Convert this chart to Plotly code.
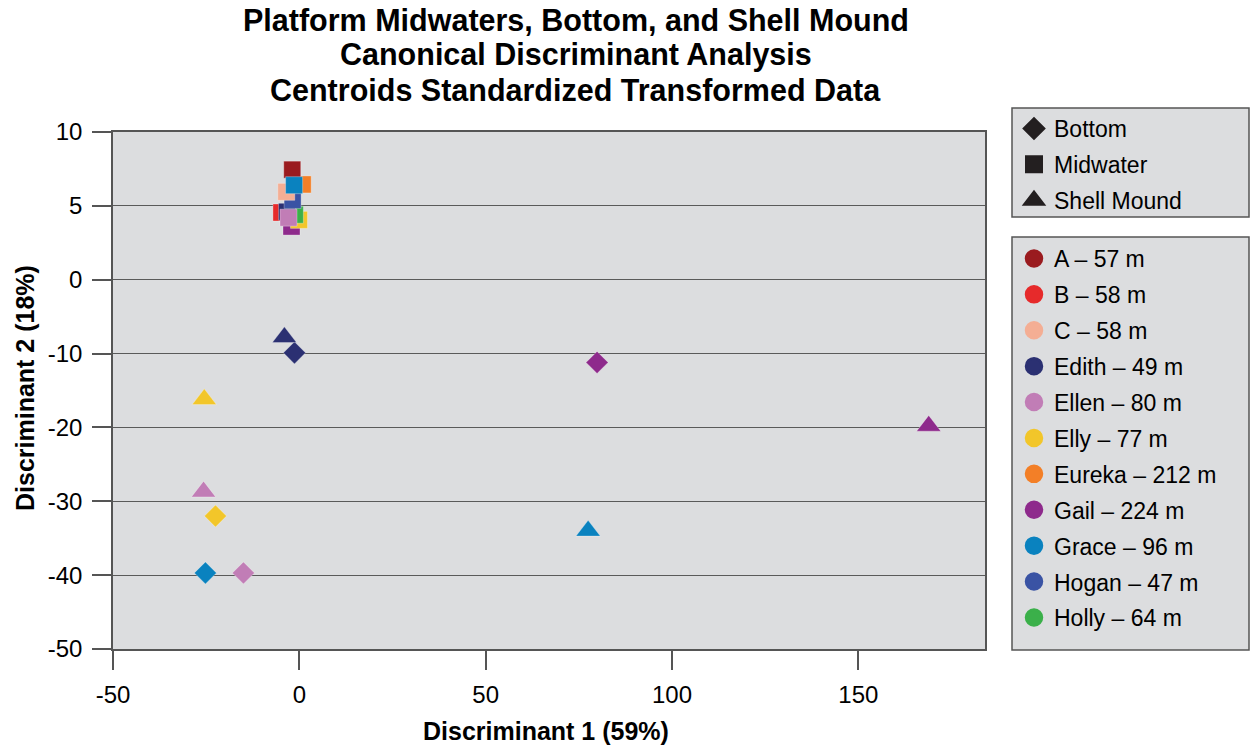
import plotly.graph_objects as go

# ---- data ----
sites = ["A – 57 m", "B – 58 m", "C – 58 m", "Edith – 49 m", "Ellen – 80 m", "Elly – 77 m",
         "Eureka – 212 m", "Gail – 224 m", "Grace – 96 m", "Hogan – 47 m", "Holly – 64 m"]
site_colors = ["#9A1B1F", "#E62A2B", "#F4AE94", "#2B3072", "#C17DB6", "#F2C62A",
               "#F37F27", "#8E2A8C", "#0A82BF", "#3A53A4", "#3BB04A"]

# Midwater centroids (draw order chosen so overlaps match)
mid_sites = ["Gail", "Elly", "Holly", "B", "Edith", "Hogan", "Ellen", "C", "Eureka", "A", "Grace"]
mid_x = [-2.1, -0.1, -1.2, -4.8, -3.3, -1.8, -2.9, -3.5, 0.9, -1.9, -1.4]
mid_y = [3.6, 4.05, 4.4, 4.55, 4.6, 5.4, 4.2, 5.95, 6.45, 7.45, 6.4]

# Bottom centroids
bot_sites = ["Edith", "Gail", "Elly", "Grace", "Ellen"]
bot_x = [-1.3, 79.9, -22.5, -25.2, -15.0]
bot_y = [-9.9, -11.2, -32.0, -39.7, -39.7]

# Shell mound centroids
shell_sites = ["Edith", "Elly", "Ellen", "Grace", "Gail"]
shell_x = [-4.0, -25.5, -25.7, 77.5, 168.9]
shell_y = [-7.8, -16.2, -28.7, -34.0, -19.8]

type_names = ["Bottom", "Midwater", "Shell Mound"]
type_symbols = ["diamond", "square", "triangle-up"]

title_lines = ["Platform Midwaters, Bottom, and Shell Mound",
               "Canonical Discriminant Analysis",
               "Centroids Standardized Transformed Data"]

y_tick_labels = [10, 5, 0, -10, -20, -30, -40, -50]
x_tick_vals = [-50, 0, 50, 100, 150]

color_of = {s.split(" –")[0]: c for s, c in zip(sites, site_colors)}


# The original y axis is piecewise: 5 units per gridline above 0, 10 units below.
def ypos(v):
    return v / 5.0 if v >= 0 else v / 10.0


fig = go.Figure()

for names, xs, ys, sym, size in [
    (bot_sites, bot_x, bot_y, "diamond", 17),
    (shell_sites, shell_x, shell_y, "triangle-up", 21),
    (mid_sites, mid_x, mid_y, "square", 17),
]:
    for n, xv, yv in zip(names, xs, ys):
        fig.add_trace(go.Scatter(
            x=[xv], y=[ypos(yv)], mode="markers", showlegend=False,
            marker=dict(symbol=sym, size=size, color=color_of[n],
                        line=dict(width=0.6, color="rgba(255,255,255,0.5)")),
            hoverinfo="skip"))

# legend 1: types
for i, (nm, sym) in enumerate(zip(type_names, type_symbols)):
    fig.add_trace(go.Scatter(
        x=[None], y=[None], mode="markers", name=nm, legend="legend",
        legendgroup="t%d" % i,
        marker=dict(symbol=sym, size=16, color="#231F20",
                    line=dict(width=3 if sym == "triangle-up" else 2, color="#231F20"))))

# legend 2: sites
for i, (nm, c) in enumerate(zip(sites, site_colors)):
    fig.add_trace(go.Scatter(
        x=[None], y=[None], mode="markers", name=nm, legend="legend2",
        legendgroup="s%d" % i,
        marker=dict(symbol="circle", size=16, color=c, line=dict(width=2.5, color=c))))

font_family = "Liberation Sans, Arial, sans-serif"
axis_col = "#555555"
box_fill = "#DCDDDF"


# paper-coordinate helpers (plot area spans px 113..985 horizontally, 132..649 vertically)
def px_x(p):
    return (p - 113) / 872.0


def px_y(p):
    return (649 - p) / 517.0


shapes = [
    dict(type="rect", xref="paper", yref="paper",
         x0=px_x(1012), x1=px_x(1249), y0=px_y(217), y1=px_y(108),
         fillcolor=box_fill, line=dict(color="#555555", width=1.5), layer="below"),
    dict(type="rect", xref="paper", yref="paper",
         x0=px_x(1012), x1=px_x(1249), y0=px_y(650), y1=px_y(237),
         fillcolor=box_fill, line=dict(color="#555555", width=1.5), layer="below"),
]

annotations = []
for i, line in enumerate(title_lines):
    annotations.append(dict(
        text="<b>%s</b>" % line, xref="paper", yref="paper",
        x=px_x(575.5), y=px_y(20 + 35 * i), xanchor="center", yanchor="middle",
        showarrow=False, font=dict(size=30.5, family=font_family, color="#000000")))
annotations.append(dict(
    text="<b>Discriminant 1 (59%)</b>", xref="paper", yref="paper",
    x=px_x(546), y=px_y(731), xanchor="center", yanchor="middle",
    showarrow=False, font=dict(size=25, family=font_family, color="#000000")))
annotations.append(dict(
    text="<b>Discriminant 2 (18%)</b>", xref="paper", yref="paper",
    x=px_x(25), y=px_y(388), xanchor="center", yanchor="middle", textangle=-90,
    showarrow=False, font=dict(size=25, family=font_family, color="#000000")))

fig.update_layout(
    width=1250, height=747,
    margin=dict(l=113, r=265, t=132, b=98),
    paper_bgcolor="white",
    plot_bgcolor=box_fill,
    font=dict(family=font_family, size=22, color="#231F20"),
    shapes=shapes,
    annotations=annotations,
    xaxis=dict(
        range=[-50, 184], tickvals=x_tick_vals, ticktext=[str(v) for v in x_tick_vals],
        showgrid=False, zeroline=False,
        showline=True, linecolor=axis_col, linewidth=1.5, mirror=True,
        ticks="outside", ticklen=19, tickwidth=1.5, tickcolor=axis_col,
        ticklabelstandoff=4,
        tickfont=dict(size=24, color="#000000")),
    yaxis=dict(
        range=[-5, 2], tickvals=[ypos(v) for v in y_tick_labels],
        ticktext=[str(v) for v in y_tick_labels],
        showgrid=True, gridcolor="#5A5A5A", gridwidth=1.3, zeroline=False,
        showline=True, linecolor=axis_col, linewidth=1.5, mirror=True,
        ticks="outside", ticklen=19, tickwidth=1.5, tickcolor=axis_col,
        ticklabelstandoff=5,
        tickfont=dict(size=24, color="#000000")),
    legend=dict(
        x=px_x(1014), xanchor="left", y=px_y(107), yanchor="top",
        bgcolor="rgba(0,0,0,0)", borderwidth=0,
        font=dict(size=23, color="#000000"), tracegroupgap=3, itemsizing="trace"),
    legend2=dict(
        x=px_x(1014), xanchor="left", y=px_y(237), yanchor="top",
        bgcolor="rgba(0,0,0,0)", borderwidth=0,
        font=dict(size=23, color="#000000"), tracegroupgap=3, itemsizing="trace"),
)

fig.write_html("out.html")
